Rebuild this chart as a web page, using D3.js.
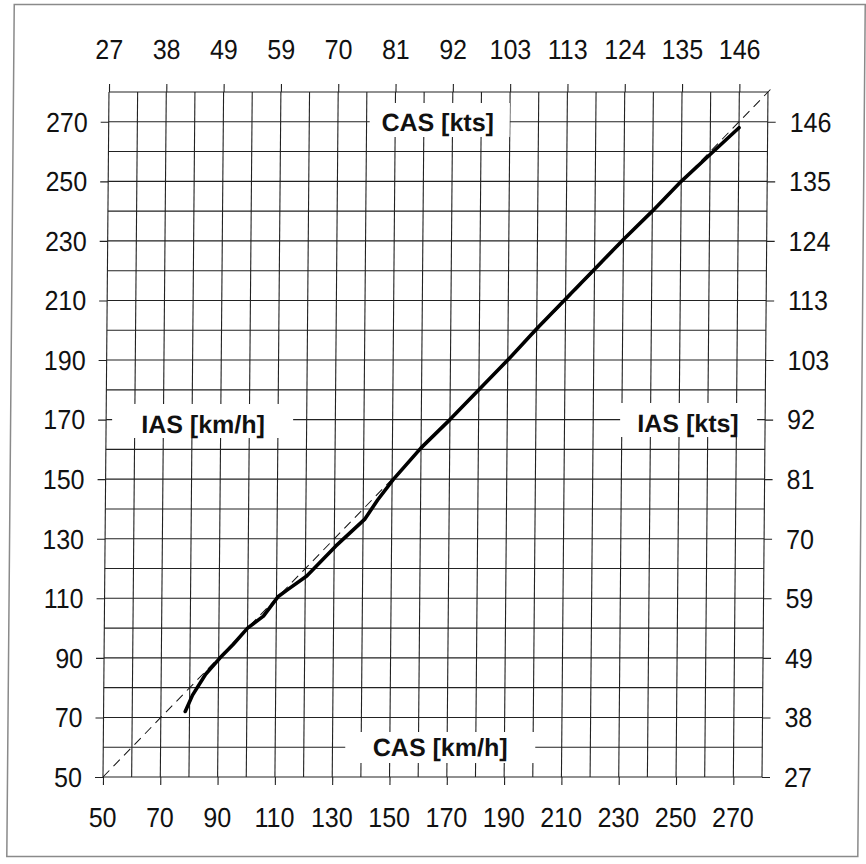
<!DOCTYPE html>
<html>
<head>
<meta charset="utf-8">
<script src="https://cdn.jsdelivr.net/npm/d3@7"></script>
<style>
  html, body { margin: 0; padding: 0; background: #fff; }
  svg { display: block; }
  text { font-family: "Liberation Sans", Arial, sans-serif; fill: #111; }
</style>
</head>
<body>
<svg id="chart" width="866" height="864"></svg>
<script>
// ---------- data ----------
const kmhTickValues = [50, 70, 90, 110, 130, 150, 170, 190, 210, 230, 250, 270];
const kmhTickLabels = ["50", "70", "90", "110", "130", "150", "170", "190", "210", "230", "250", "270"];
const ktsTickLabels = ["27", "38", "49", "59", "70", "81", "92", "103", "113", "124", "135", "146"];
const gridValues = d3.range(50, 281, 10);
// calibration curve: CAS [km/h] (x) vs IAS [km/h] (y)
const casKmh = [78.5, 81, 85.5, 90.5, 95, 100, 105.5, 110.5, 114, 120.5, 130.5, 140.5, 145, 150.5, 160, 170, 180.5, 190.5, 200, 210, 220, 230, 240, 250, 260, 270];
const iasKmh = [72, 77.5, 84.5, 90, 94.5, 100, 104, 110.5, 113, 117.5, 127.5, 136.5, 143, 150, 160.5, 170, 180.5, 190.5, 200.5, 210.5, 220.5, 230.5, 240, 250, 259, 268];
// reference line IAS = CAS
const refLine = [50, 282];
const axisTitles = ["CAS [kts]", "CAS [km/h]", "IAS [km/h]", "IAS [kts]"];

// ---------- layout ----------
const L = 103, R = 762, T = 92, B = 777;
const x = d3.scaleLinear().domain([50, 280]).range([L, R]);
const y = d3.scaleLinear().domain([50, 280]).range([B, T]);
const tickLen = 8;
const numSize = 25, stretch = 1.1;
const titleBoxes = [
  { x0: 364, x1: 504, y0: 103, y1: 137, tx: 432, ty: 131 },
  { x0: 345, x1: 535, y0: 732, y1: 763, tx: 440, ty: 756 },
  { x0: 109, x1: 290, y0: 404, y1: 438, tx: 200, ty: 433 },
  { x0: 617, x1: 754, y0: 403, y1: 437, tx: 685, ty: 432 }
];

const svg = d3.select("#chart");
svg.append("rect").attr("width", 866).attr("height", 864).attr("fill", "#fff");

// the scanned original is slightly sheared
const g = svg.append("g")
  .attr("transform", `translate(0,${B}) skewX(-0.5) translate(0,${-B})`);

// outer frame
g.append("rect")
  .attr("x", 7.5).attr("y", 4.5).attr("width", 851).attr("height", 852)
  .attr("fill", "none").attr("stroke", "#8a8a8a").attr("stroke-width", 1.5);

// grid lines
const grid = g.append("g").attr("stroke", "#222").attr("stroke-width", 1.1);
grid.selectAll("line.v").data(gridValues).join("line")
  .attr("class", "v")
  .attr("x1", d => x(d)).attr("x2", d => x(d))
  .attr("y1", y(280)).attr("y2", y(50));
grid.selectAll("line.h").data(gridValues).join("line")
  .attr("class", "h")
  .attr("y1", d => y(d)).attr("y2", d => y(d))
  .attr("x1", x(50)).attr("x2", x(280));

// axes: outward ticks from d3 axes, labels drawn separately (slightly tall glyphs)
const axisStyle = sel => {
  sel.select(".domain").remove();
  sel.selectAll(".tick line").attr("stroke", "#222").attr("stroke-width", 1.1);
  sel.selectAll(".tick text").remove();
};
g.append("g").attr("transform", `translate(0,${B})`)
  .call(d3.axisBottom(x).tickValues(kmhTickValues).tickSize(tickLen)).call(axisStyle);
g.append("g").attr("transform", `translate(0,${T})`)
  .call(d3.axisTop(x).tickValues(kmhTickValues).tickSize(tickLen)).call(axisStyle);
g.append("g").attr("transform", `translate(${L},0)`)
  .call(d3.axisLeft(y).tickValues(kmhTickValues).tickSize(tickLen)).call(axisStyle);
g.append("g").attr("transform", `translate(${R},0)`)
  .call(d3.axisRight(y).tickValues(kmhTickValues).tickSize(tickLen)).call(axisStyle);

const labelG = g.append("g").attr("font-size", numSize);
const addLabels = (cls, labels, px, py, anchor) => {
  labelG.selectAll("text." + cls).data(kmhTickValues).join("text")
    .attr("class", cls)
    .attr("text-anchor", anchor)
    .attr("transform", (d, i) => `translate(${px(d)},${py(d)}) scale(1,${stretch})`)
    .text((d, i) => labels[i]);
};
const halfCap = 0.716 * numSize * stretch / 2;
addLabels("bottom", kmhTickLabels, d => x(d), d => 827, "middle");
addLabels("top", ktsTickLabels, d => x(d), d => 59, "middle");
addLabels("left", kmhTickLabels, d => 82, d => y(d) + halfCap, "end");
addLabels("right", ktsTickLabels, d => 784, d => y(d) + halfCap, "start");

// title boxes (white, interrupting the grid)
const titles = g.append("g");
titles.selectAll("rect").data(titleBoxes).join("rect")
  .attr("x", d => d.x0).attr("y", d => d.y0)
  .attr("width", d => d.x1 - d.x0).attr("height", d => d.y1 - d.y0)
  .attr("fill", "#fff");

// reference dashed line IAS = CAS
g.append("line")
  .attr("x1", x(refLine[0])).attr("y1", y(refLine[0]))
  .attr("x2", x(refLine[1])).attr("y2", y(refLine[1]))
  .attr("stroke", "#111").attr("stroke-width", 1).attr("stroke-dasharray", "9,6");

// calibration curve
const pts = casKmh.map((c, i) => [c, iasKmh[i]]);
g.append("path")
  .datum(pts)
  .attr("fill", "none").attr("stroke", "#000").attr("stroke-width", 3.6)
  .attr("stroke-linejoin", "round").attr("stroke-linecap", "round")
  .attr("d", d3.line().x(d => x(d[0])).y(d => y(d[1])).curve(d3.curveLinear));

titles.selectAll("text").data(titleBoxes).join("text")
  .attr("x", d => d.tx).attr("y", d => d.ty)
  .attr("text-anchor", "middle").attr("font-weight", "bold").attr("font-size", 25)
  .text((d, i) => axisTitles[i]);
</script>
</body>
</html>
